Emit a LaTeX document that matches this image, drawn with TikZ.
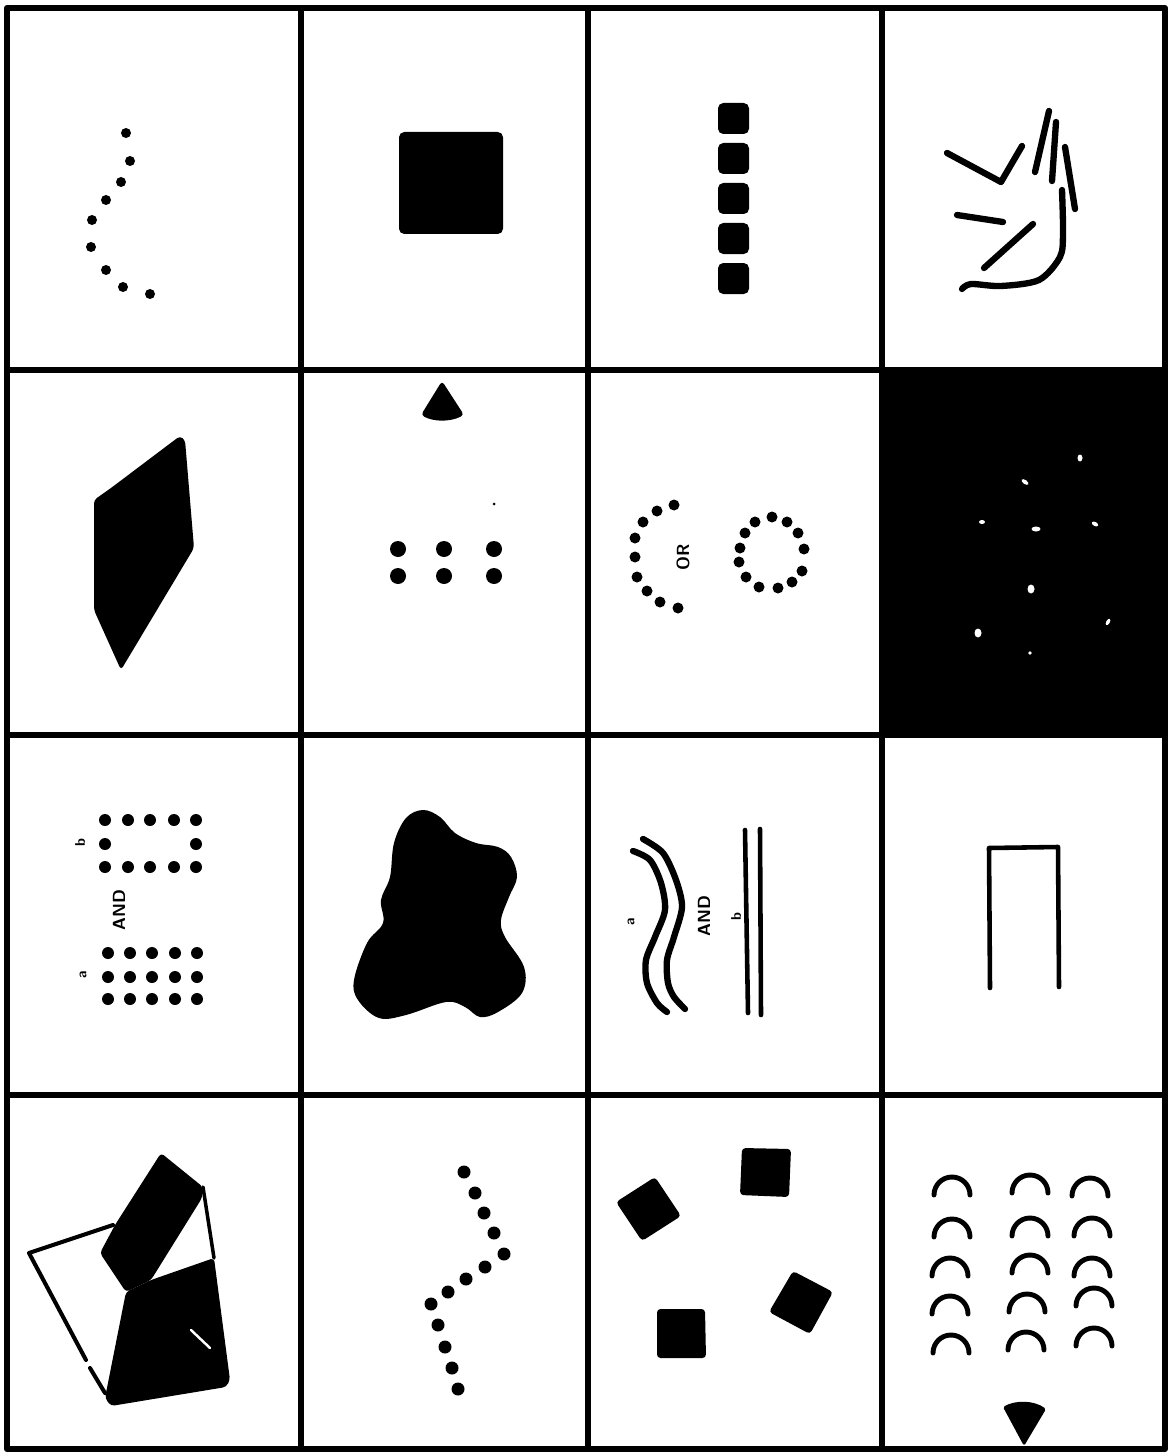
\documentclass[tikz,border=0pt]{standalone}
\usetikzlibrary{arrows.meta, positioning, calc}

\begin{document}
\begin{tikzpicture}[x=0.02cm, y=-0.02cm, line cap=round, line join=round,
  gridline/.style={line width=3.4pt},
  pen/.style={line width=3.6pt},
  thinpen/.style={line width=2.6pt},
  arcpen/.style={line width=2.8pt},
  tag/.style={font=\sffamily\bfseries\fontsize{10}{12}\selectfont, rotate=90, inner sep=0pt},
  smalltag/.style={font=\sffamily\bfseries\fontsize{8}{10}\selectfont, rotate=90, inner sep=0pt}]
  \useasboundingbox (0,0) rectangle (1170,1453);

  % Panel grid
  \fill (882,370) rectangle (1165,735);
  \draw[gridline] (7,8) rectangle (1165,1449);
  \foreach \gx in {301,588,882} \draw[gridline] (\gx,8) -- (\gx,1449);
  \foreach \gy in {370,735,1095} \draw[gridline] (7,\gy) -- (1165,\gy);

  % Row 1 -- dotted arc
  \foreach \p in {(126,133),(130,161),(121,182),(106,200),(92,220),(91,247),(106,270),(123,287),(150,294)}
    \fill \p circle[radius=5];

  % Row 1 -- solid square
  \fill[rounded corners=3] (399,132) rectangle (503,234);

  % Row 1 -- column of squares
  \foreach \sy in {103,143,183,223,263}
    \fill[rounded corners=3] (718,\sy) rectangle ++(31,31);

  % Row 1 -- scattered strokes
  \draw[pen] (947,153) -- (1001,182) -- (1022,146);
  \draw[pen] (1035,172) -- (1049,111);
  \draw[pen] (1052,181) -- (1056,122);
  \draw[pen] (1065,147) -- (1075,209);
  \draw[pen] (957,215) -- (1003,222);
  \draw[pen] (984,268) -- (1033,224);
  \draw[pen] plot[smooth] coordinates
    {(962,289) (971,284) (1001,286) (1039,280) (1060,257) (1063,233) (1062,190)};

  % Row 2 -- dark polygon
  \fill[rounded corners=2] (94,500) -- (111,488) -- (180,436) -- (185,440) -- (194,548)
    -- (121,670) -- (94,610) -- cycle;

  % Row 2 -- pointer and six dots
  \fill[rounded corners=2] (442,381) -- (464,415) .. controls (450,422) and (434,422) .. (421,415) -- cycle;
  \fill (494,504) circle[radius=1.5];
  \foreach \dx in {398,444,494}
    \foreach \dy in {549,576}
      \fill (\dx,\dy) circle[radius=8];

  % Row 2 -- open ring OR closed ring
  \foreach \p in {(674,505),(657,511),(643,522),(635,538),(635,557),(637,577),(647,591),(660,602),(678,608)}
    \fill \p circle[radius=5.5];
  \node[tag] (orword) at (683,557) {OR};
  \foreach \p in {(772,517),(787,522),(798,533),(804,549),(802,571),(792,582),(778,588),
                  (759,587),(746,577),(739,562),(740,548),(745,533),(755,522)}
    \fill \p circle[radius=5.5];

  % Row 2 -- white specks on black
  \fill[white] (1080,458) ellipse[x radius=2.5, y radius=3.5];
  \fill[white, rotate around={-35:(1025,482)}] (1025,482) ellipse[x radius=4, y radius=2];
  \fill[white] (982,522) ellipse[x radius=3, y radius=2];
  \fill[white] (1036,529) ellipse[x radius=4.5, y radius=2.5];
  \fill[white, rotate around={-30:(1095,524)}] (1095,524) ellipse[x radius=3.5, y radius=2];
  \fill[white] (1031,589) ellipse[x radius=3.5, y radius=4.5];
  \fill[white, rotate around={60:(1108,622)}] (1108,622) ellipse[x radius=3.5, y radius=1.8];
  \fill[white] (978,633) ellipse[x radius=3.5, y radius=4.5];
  \fill[white] (1030,653) circle[radius=1.8];

  % Row 3 -- two dot frames with AND
  \foreach \dx in {105,128,150,174,196} {
    \fill (\dx,820) circle[radius=6];
    \fill (\dx,867) circle[radius=6];
  }
  \fill (105,844) circle[radius=6];
  \fill (196,844) circle[radius=6];
  \node[smalltag] (bframe) at (80,843) {b};
  \node[tag] (andframe) at (119,910) {AND};
  \foreach \dx in {108,130,152,175,197}
    \foreach \dy in {953,977,999}
      \fill (\dx,\dy) circle[radius=6];
  \node[smalltag] (aframe) at (83,975) {a};

  % Row 3 -- blob
  \fill plot[smooth cycle, tension=0.6] coordinates
    {(423,810) (406,818) (394,843) (390,877) (381,900) (383,923) (367,943) (354,980)
     (358,1000) (379,1018) (406,1015) (446,1002) (465,1007) (480,1017) (498,1012)
     (522,993) (524,967) (505,937) (501,920) (509,897) (517,877) (511,857) (498,847)
     (476,843) (455,833) (440,817)};

  % Row 3 -- waves AND straight pair
  \draw[pen] plot[smooth] coordinates
    {(633,851) (650,860) (661,883) (665,910) (655,937) (646,960) (647,983) (657,1003) (667,1012)};
  \draw[pen] plot[smooth] coordinates
    {(643,839) (663,853) (676,880) (682,907) (674,937) (667,960) (668,983) (674,997) (685,1009)};
  \draw[thinpen] (745,830) -- (748,1013);
  \draw[thinpen] (760,829) -- (761,1015);
  \node[smalltag] (awave) at (631,922) {a};
  \node[tag] (andwave) at (704,916) {AND};
  \node[smalltag] (bwave) at (736,917) {b};

  % Row 3 -- open frame
  \draw[thinpen] (990,988) -- (989,848) -- (1058,847) -- (1059,987);

  % Row 4 -- overlapping slabs
  \draw[line width=2.3pt] (86,1360) -- (29,1253) -- (113,1225);
  \draw[line width=2.3pt] (90,1368) -- (105,1393);
  \fill[rounded corners=2] (115,1225) -- (161,1153) -- (203,1187) -- (202,1198) -- (151,1280)
    -- (126,1292) -- (100,1253) -- cycle;
  \fill[rounded corners=2] (151,1280) -- (214,1258) -- (230,1380) -- (226,1387) -- (111,1406)
    -- (105,1398) -- (126,1292) -- cycle;
  \draw[line width=2pt] (203,1187) -- (214,1258);
  \draw[white, line width=1.4pt] (191,1330) -- (210,1348);

  % Row 4 -- dotted zigzag
  \foreach \p in {(464,1172),(475,1193),(484,1213),(494,1233),(504,1254),(485,1267),(466,1279),
                  (448,1292),(431,1304),(438,1325),(445,1347),(452,1368),(458,1389)}
    \fill \p circle[radius=6.5];

  % Row 4 -- scattered squares
  \fill[rounded corners=2] (655,1177) -- (681,1216) -- (642,1241) -- (616,1202) -- cycle;
  \fill[rounded corners=2] (742,1148) -- (791,1149) -- (789,1197) -- (740,1195) -- cycle;
  \fill[rounded corners=2] (793,1271) -- (833,1292) -- (810,1334) -- (769,1312) -- cycle;
  \fill[rounded corners=2] (657,1309) -- (705,1309) -- (706,1358) -- (657,1358) -- cycle;

  % Row 4 -- arcs and pointer
  \foreach \ax/\ay in {952/1195, 952/1237, 950/1276, 950/1314, 951/1353,
                       1030/1193, 1030/1236, 1030/1273, 1027/1312, 1026/1350,
                       1090/1196, 1092/1236, 1092/1276, 1094/1306, 1094/1346}
    \draw[arcpen] (\ax-18,\ay) arc[start angle=180, end angle=360, radius=18];
  \fill[rounded corners=1] (1003,1407) .. controls (1015,1400) and (1034,1400) .. (1046,1409)
    -- (1024,1446) -- cycle;
\end{tikzpicture}
\end{document}
